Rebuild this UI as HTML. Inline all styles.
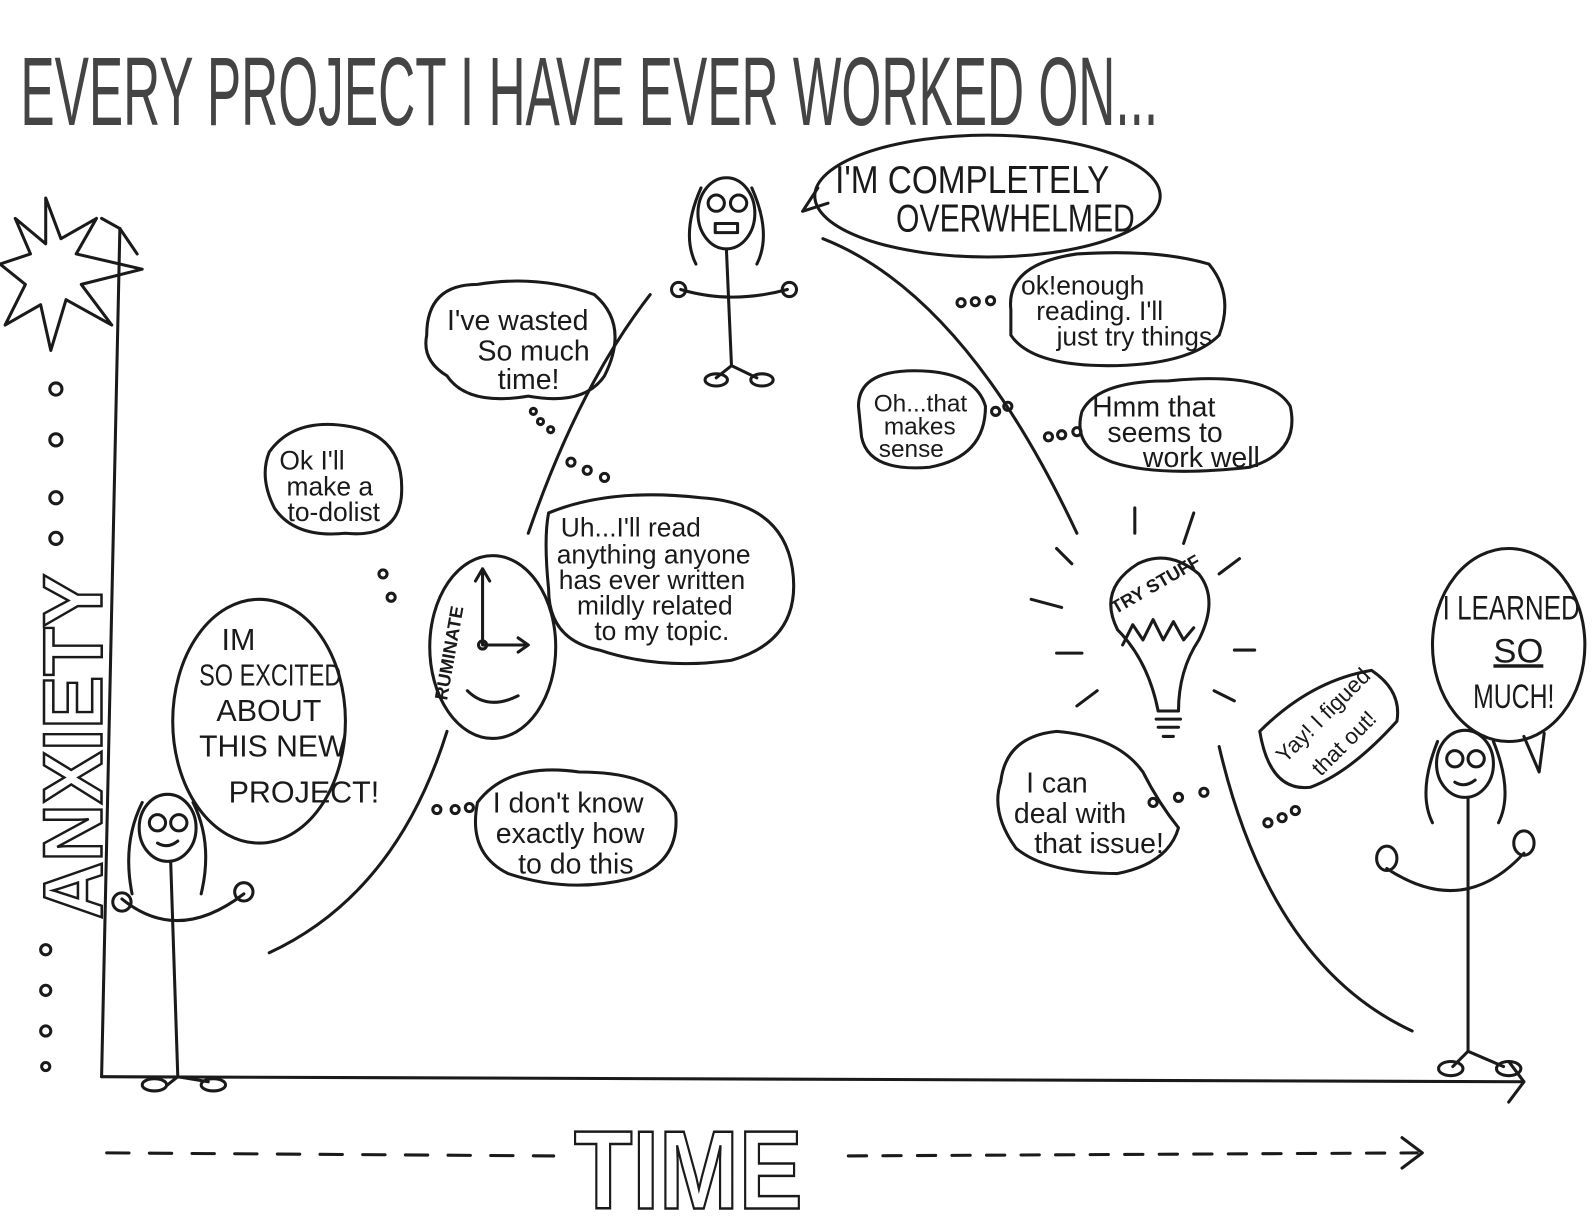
<!DOCTYPE html>
<html><head><meta charset="utf-8"><style>
html,body{margin:0;padding:0;background:#fff;}
svg{display:block}
text{font-family:"Liberation Sans Narrow","Liberation Sans",sans-serif;fill:#1a1a1a}
</style></head><body>
<svg width="1593" height="1225" viewBox="0 0 1568 1206" preserveAspectRatio="none" xmlns="http://www.w3.org/2000/svg">
<g fill="none" stroke="#1a1a1a" stroke-width="3" stroke-linecap="round" stroke-linejoin="round">
<path d="M100 1060 L118 225"/>
<path d="M100 215 L118 225 L135 250"/>
<path d="M100 1060 L1500 1065"/>
<path d="M1485 1045 L1500 1065 L1485 1085"/>
<path d="M45 195 L60 235 L95 215 L75 250 L140 265 L80 280 L110 320 L65 295 L50 345 L40 300 L5 320 L25 280 L0 260 L30 250 L15 215 L45 240 Z"/>
<circle cx="55" cy="383" r="6"/><circle cx="55" cy="433" r="6"/><circle cx="55" cy="490" r="6"/><circle cx="55" cy="530" r="6"/>
<circle cx="45" cy="935" r="5"/><circle cx="45" cy="975" r="5"/><circle cx="45" cy="1015" r="5"/><circle cx="45" cy="1050" r="4"/>
<path d="M265 938 Q390 880 440 720"/>
<path d="M520 525 Q570 380 640 290"/>
<path d="M810 235 Q950 290 1060 525"/>
<path d="M1200 735 Q1250 950 1390 1015"/>
<path d="M105 1135 L545 1138" stroke-dasharray="22 20"/>
<path d="M835 1138 L1395 1135" stroke-dasharray="18 16"/>
<path d="M1380 1120 L1400 1135 L1380 1150"/>
<ellipse cx="165" cy="815" rx="28" ry="33"/>
<circle cx="155" cy="810" r="8"/><circle cx="176" cy="810" r="8"/>
<path d="M155 830 Q165 836 175 828"/>
<path d="M140 790 Q120 830 130 880 M190 790 Q210 830 198 880"/>
<path d="M168 848 L175 1060 M175 1060 L165 1068 M175 1060 L205 1065"/>
<path d="M120 885 Q175 930 240 880"/>
<circle cx="120" cy="888" r="9"/><circle cx="240" cy="878" r="9"/>
<ellipse cx="152" cy="1068" rx="12" ry="6"/><ellipse cx="210" cy="1068" rx="12" ry="6"/>
<ellipse cx="715" cy="210" rx="28" ry="35"/>
<circle cx="705" cy="200" r="8"/><circle cx="727" cy="200" r="8"/>
<rect x="704" y="220" width="22" height="9"/>
<path d="M690 185 Q670 230 685 260 M740 185 Q760 230 745 260"/>
<path d="M715 245 L720 360 M720 360 L705 372 M720 360 L745 372"/>
<path d="M670 285 Q720 300 775 285"/>
<circle cx="668" cy="285" r="7"/><circle cx="777" cy="285" r="7"/>
<ellipse cx="705" cy="374" rx="11" ry="6"/><ellipse cx="750" cy="374" rx="11" ry="6"/>
<ellipse cx="1442" cy="752" rx="28" ry="33"/>
<circle cx="1432" cy="747" r="8"/><circle cx="1453" cy="747" r="8"/>
<path d="M1432 770 Q1442 776 1452 768"/>
<path d="M1415 730 Q1395 780 1410 810 M1470 730 Q1490 780 1475 810"/>
<path d="M1445 785 L1445 1035 M1445 1035 L1430 1050 M1445 1035 L1480 1050"/>
<path d="M1365 855 Q1440 905 1500 840"/>
<ellipse cx="1365" cy="845" rx="10" ry="12"/><ellipse cx="1500" cy="830" rx="10" ry="12"/>
<ellipse cx="1428" cy="1052" rx="12" ry="7"/><ellipse cx="1485" cy="1052" rx="12" ry="7"/>
<ellipse cx="485" cy="637" rx="62" ry="90"/>
<path d="M475 635 L475 560 M468 572 L475 560 L482 572 M475 635 L520 635 M510 628 L520 635 L510 642"/>
<circle cx="475" cy="635" r="4"/>
<path d="M460 680 Q480 700 510 685"/>
<path d="M1140 700 Q1130 650 1100 620 Q1080 580 1120 555 Q1150 540 1180 565 Q1200 590 1180 630 Q1160 660 1160 700 Z"/>
<path d="M1140 700 L1160 700 M1138 708 L1162 708 M1140 716 L1160 716 M1145 725 L1155 725"/>
<path d="M1105 635 L1115 615 L1125 630 L1135 610 L1145 630 L1155 612 L1165 630 L1175 618"/>
<path d="M1117 500 L1117 525 M1175 505 L1165 535 M1220 550 L1200 565 M1040 540 L1055 555 M1015 590 L1045 598 M1215 640 L1235 640 M1040 643 L1065 643 M1060 695 L1080 680 M1195 680 L1215 690"/>
<ellipse cx="255" cy="710" rx="85" ry="120"/>
<ellipse cx="972" cy="193" rx="170" ry="60"/>
<path d="M805 185 L790 208 L815 200"/>
<ellipse cx="1485" cy="635" rx="75" ry="95"/>
<path d="M1500 725 L1515 760 L1520 722"/>
<path d="M420 330 Q420 280 470 280 Q530 270 585 290 Q620 320 595 370 Q575 400 520 390 Q460 400 440 370 Q415 355 420 330Z"/>
<path d="M265 445 Q290 410 345 420 Q400 430 395 490 Q390 530 340 525 Q290 530 270 500 Q255 470 265 445Z"/>
<path d="M540 505 Q600 480 690 490 Q770 495 780 560 Q790 630 720 650 Q650 660 590 640 Q540 630 540 580 Q535 530 540 505Z"/>
<path d="M470 790 Q500 750 570 760 Q650 760 665 800 Q670 850 620 865 Q560 880 500 860 Q460 840 470 790Z"/>
<path d="M995 305 Q990 260 1060 250 Q1140 245 1190 260 Q1215 290 1200 330 Q1170 360 1090 360 Q1015 360 995 330Z"/>
<path d="M845 400 Q845 365 900 365 Q960 365 970 400 Q970 450 915 460 Q855 465 848 430Z"/>
<path d="M1065 405 Q1080 375 1150 375 Q1250 365 1270 400 Q1280 445 1230 460 Q1140 470 1095 455 Q1055 440 1065 405Z"/>
<path d="M985 770 Q990 725 1040 720 Q1100 725 1125 760 Q1140 790 1160 815 Q1150 850 1100 860 Q1030 860 1000 835 Q975 800 985 770Z"/>
<path d="M1240 720 Q1290 670 1350 660 Q1380 680 1375 710 Q1330 760 1290 775 Q1250 780 1240 720Z"/>
<circle cx="525" cy="405" r="3"/><circle cx="532" cy="415" r="3"/><circle cx="542" cy="423" r="3"/>
<circle cx="562" cy="455" r="4"/><circle cx="578" cy="463" r="4"/><circle cx="595" cy="470" r="4"/>
<circle cx="377" cy="565" r="4"/><circle cx="385" cy="588" r="4"/>
<circle cx="430" cy="797" r="4"/><circle cx="448" cy="797" r="4"/><circle cx="462" cy="795" r="4"/>
<circle cx="946" cy="298" r="4"/><circle cx="960" cy="297" r="4"/><circle cx="975" cy="296" r="4"/>
<circle cx="1032" cy="430" r="4"/><circle cx="1045" cy="428" r="4"/><circle cx="1060" cy="425" r="4"/>
<circle cx="980" cy="405" r="4"/><circle cx="992" cy="400" r="4"/>
<circle cx="1135" cy="790" r="4"/><circle cx="1160" cy="785" r="4"/><circle cx="1185" cy="780" r="4"/>
<circle cx="1248" cy="810" r="4"/><circle cx="1262" cy="805" r="4"/><circle cx="1275" cy="798" r="4"/>
</g>
<text x="20" y="123" font-size="96" textLength="1120" lengthAdjust="spacingAndGlyphs" style="fill:#444">EVERY PROJECT I HAVE EVER WORKED ON...</text>
<text transform="translate(100,905) rotate(-90)" font-size="82" font-weight="bold" stroke="#1a1a1a" stroke-width="2.5" textLength="340" lengthAdjust="spacingAndGlyphs" style="fill:none">ANXIETY</text>
<text x="565" y="1190" font-size="110" font-weight="bold" stroke="#1a1a1a" stroke-width="2.5" textLength="225" lengthAdjust="spacingAndGlyphs" style="fill:none">TIME</text>
<g font-size="30">
<text x="822" y="190" font-size="38" textLength="270" lengthAdjust="spacingAndGlyphs">I'M COMPLETELY</text>
<text x="882" y="228" font-size="38" textLength="235" lengthAdjust="spacingAndGlyphs">OVERWHELMED</text>
<text x="218" y="640">IM</text>
<text x="196" y="675" textLength="140" lengthAdjust="spacingAndGlyphs">SO EXCITED</text>
<text x="213" y="710">ABOUT</text>
<text x="196" y="745" textLength="145" lengthAdjust="spacingAndGlyphs">THIS NEW</text>
<text x="225" y="790">PROJECT!</text>
<text x="1420" y="610" font-size="34" textLength="135" lengthAdjust="spacingAndGlyphs">I LEARNED</text>
<text x="1470" y="652" font-size="34" text-decoration="underline">SO</text>
<text x="1450" y="697" font-size="34" textLength="80" lengthAdjust="spacingAndGlyphs">MUCH!</text>
<text x="440" y="325" font-size="28">I've wasted</text>
<text x="470" y="355" font-size="28">So much</text>
<text x="490" y="383" font-size="28">time!</text>
<text x="275" y="462" font-size="26">Ok I'll</text>
<text x="282" y="488" font-size="26">make a</text>
<text x="283" y="513" font-size="26">to-dolist</text>
<text x="552" y="528" font-size="26">Uh...I'll read</text>
<text x="548" y="555" font-size="26">anything anyone</text>
<text x="550" y="580" font-size="26">has ever written</text>
<text x="568" y="605" font-size="26">mildly related</text>
<text x="585" y="630" font-size="26">to my topic.</text>
<text x="485" y="800" font-size="28">I don't know</text>
<text x="488" y="830" font-size="28">exactly how</text>
<text x="510" y="860" font-size="28">to do this</text>
<text x="1005" y="290" font-size="26">ok!enough</text>
<text x="1020" y="315" font-size="26">reading. I'll</text>
<text x="1040" y="340" font-size="26">just try things</text>
<text x="860" y="405" font-size="24">Oh...that</text>
<text x="870" y="428" font-size="24">makes</text>
<text x="865" y="450" font-size="24">sense</text>
<text x="1075" y="410" font-size="28">Hmm that</text>
<text x="1090" y="435" font-size="28">seems to</text>
<text x="1125" y="460" font-size="28">work well</text>
<text x="1010" y="780" font-size="28">I can</text>
<text x="998" y="810" font-size="28">deal with</text>
<text x="1018" y="840" font-size="28">that issue!</text>
<text transform="translate(1265,752) rotate(-45)" font-size="22">Yay! I figued</text>
<text transform="translate(1300,765) rotate(-45)" font-size="22">that out!</text>
<text transform="translate(1098,605) rotate(-30)" font-size="18" font-weight="bold">TRY STUFF</text>
<text transform="translate(440,690) rotate(-80)" font-size="18" font-weight="bold">RUMINATE</text>
</g>
</svg>
</body></html>
